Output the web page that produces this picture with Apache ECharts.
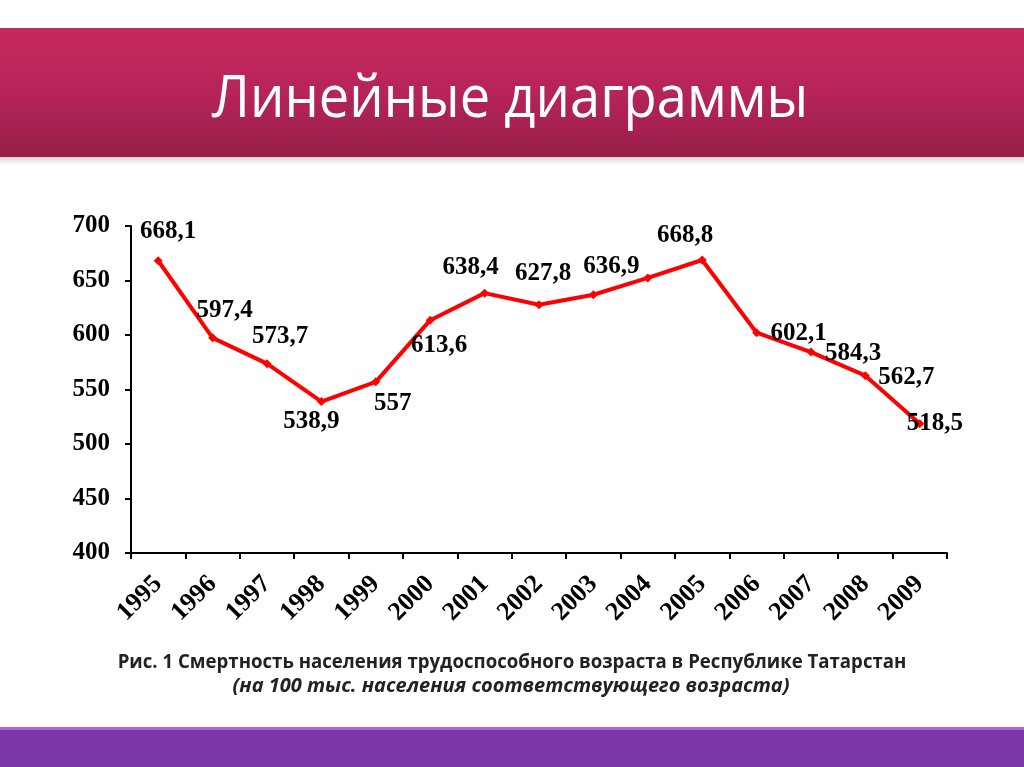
<!DOCTYPE html>
<html><head><meta charset="utf-8">
<script src="https://cdn.jsdelivr.net/npm/echarts@6/dist/echarts.min.js"></script>
<style>html,body{margin:0;padding:0;background:#fff}#c{width:1024px;height:767px}</style>
</head><body><div id="c"></div>
<script>
const years = ['1995','1996','1997','1998','1999','2000','2001','2002','2003','2004','2005','2006','2007','2008','2009'];
const values = [668.1,597.4,573.7,538.9,557,613.6,638.4,627.8,636.9,652.4,668.8,602.1,584.3,562.7,518.5];
const labelTexts = ['668,1','597,4','573,7','538,9','557','613,6','638,4','627,8','636,9','','668,8','602,1','584,3','562,7','518,5'];
const yTicks = [400,450,500,550,600,650,700];
const titleText = 'Линейные диаграммы';
const caption1 = 'Рис. 1 Смертность населения трудоспособного возраста в Республике Татарстан';
const caption2 = '(на 100 тыс. населения соответствующего возраста)';

// label offsets relative to point [dx, dy]
const labelOffsets = [[10,-29],[12,-27],[13,-27],[-10,20],[17,22],[9,25],[-14,-26],[4,-31],[18,-28],[0,-30],[-17,-24],[42,1],[42,1],[41,2],[15,0]];

const chart = echarts.init(document.getElementById('c'), null, {renderer:'canvas'});
const serif = '"Liberation Serif","Times New Roman",serif';
const sans = '"Open Sans","Noto Sans",sans-serif';
const dataItems = values.map((v,i)=>({
  value: v,
  label: {
    show: labelTexts[i] !== '',
    formatter: labelTexts[i],
    position: 'inside',
    offset: labelOffsets[i]
  }
}));
chart.setOption({
  animation:false,
  backgroundColor:'#ffffff',
  graphic:[
    {type:'rect', shape:{x:0,y:157,width:1024,height:8}, style:{fill:new echarts.graphic.LinearGradient(0,0,0,1,[{offset:0,color:'#d8d8d8'},{offset:1,color:'#ffffff'}])}},
    {type:'rect', shape:{x:0,y:28,width:1024,height:129}, style:{fill:new echarts.graphic.LinearGradient(0,0,0,1,[{offset:0,color:'#c6285c'},{offset:0.5,color:'#b6245a'},{offset:1,color:'#981e49'}])}},
    {type:'text', x:510, y:100, scaleX:0.92, style:{text:titleText, x:0, y:0, align:'center', verticalAlign:'middle', fill:'#ffffff', font:'59px ' + sans}},
    {type:'text', x:512, y:663, scaleX:0.98, style:{text:caption1, x:0, y:0, align:'center', verticalAlign:'middle', fill:'#222', font:'bold 19px ' + sans}},
    {type:'text', x:511, y:686, style:{text:caption2, x:0, y:0, align:'center', verticalAlign:'middle', fill:'#222', font:'italic bold 20px ' + sans}},
    {type:'rect', shape:{x:0,y:727,width:1024,height:3}, style:{fill:'#a66ad0'}},
    {type:'rect', shape:{x:0,y:730,width:1024,height:37}, style:{fill:'#7a36a8'}}
  ],
  grid:{left:131,right:77,top:226,bottom:214,containLabel:false},
  xAxis:{
    type:'category', data:years, boundaryGap:true,
    axisLine:{lineStyle:{color:'#000',width:2}},
    axisTick:{show:true,length:6,inside:false,alignWithLabel:false,lineStyle:{color:'#000',width:2}},
    axisLabel:{rotate:45,margin:27,color:'#000',fontFamily:serif,fontWeight:'bold',fontSize:26,interval:0}
  },
  yAxis:{
    type:'value', min:400, max:700, interval:50,
    axisLine:{show:true,lineStyle:{color:'#000',width:2}},
    axisTick:{show:true,length:6,lineStyle:{color:'#000',width:2}},
    splitLine:{show:false},
    axisLabel:{margin:21,color:'#000',fontFamily:serif,fontWeight:'bold',fontSize:25,
      formatter:v=>yTicks.includes(v)?String(v):''}
  },
  series:[{
    type:'line', data:dataItems,
    lineStyle:{color:'#ff0000',width:4},
    itemStyle:{color:'#ff0000'},
    symbol:'diamond', symbolSize:9,
    label:{color:'#000',fontFamily:serif,fontWeight:'bold',fontSize:25}
  }]
});
</script></body></html>
